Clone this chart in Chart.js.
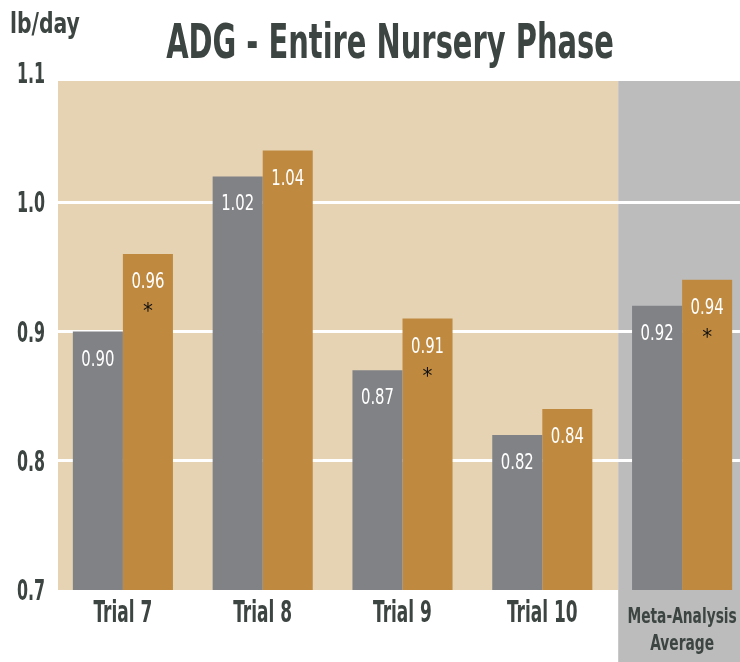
<!DOCTYPE html>
<html>
<head>
<meta charset="utf-8">
<script src="https://cdn.jsdelivr.net/npm/chart.js@4"></script>
<style>
  html, body { margin: 0; padding: 0; background: #fff; overflow: hidden; }
  #wrap { width: 752px; height: 662px; position: relative; }
</style>
</head>
<body>
<div id="wrap"><canvas id="adg"></canvas></div>
<script>
/* DATA */
const CATEGORIES = ['Trial 7', 'Trial 8', 'Trial 9', 'Trial 10', ['Meta-Analysis', 'Average']];
const CONTROL = [0.90, 1.02, 0.87, 0.82, 0.92];
const TREATED = [0.96, 1.04, 0.91, 0.84, 0.94];
const SIGNIFICANT = [true, false, true, false, true];
const Y_MIN = 0.7, Y_MAX = 1.1, Y_STEP = 0.1;
const GRID_VALUES = [0.8, 0.9, 1.0];

/* STYLE */
const FONT = "'DejaVu Sans Condensed', 'DejaVu Sans', sans-serif";
const INK = '#3c4542';
const GRAY_BAR = '#818286';
const GOLD_BAR = '#bf8a40';
const TAN = '#e5d3b4';
const PANEL = '#bcbcbc';

Chart.defaults.font.family = FONT;
Chart.defaults.color = INK;

// no narrow font installed: squeeze text horizontally instead
function squeezed(ctx, text, x, y, font, sx, align) {
  ctx.save();
  ctx.font = font;
  ctx.textAlign = align;
  ctx.textBaseline = 'alphabetic';
  ctx.translate(x, y);
  ctx.scale(sx, 1);
  ctx.fillText(text, 0, 0);
  ctx.restore();
}

/* background: tan plot + gray meta-analysis panel */
const backdrop = {
  id: 'backdrop',
  beforeDraw(chart) {
    const { ctx, chartArea: a, scales: { x } } = chart;
    const split = (x.getPixelForValue(3) + x.getPixelForValue(4)) / 2 + 6;
    const top = a.top + 8;
    ctx.save();
    ctx.fillStyle = TAN;
    ctx.fillRect(a.left + 5, top, split - a.left - 5, a.bottom - top);
    ctx.fillStyle = PANEL;
    ctx.fillRect(split, top, a.right - split, chart.height - top);
    ctx.restore();
  }
};

/* value labels, asterisks, axis labels, title */
const annotate = {
  id: 'annotate',
  afterDatasetsDraw(chart) {
    const { ctx } = chart;
    chart.data.datasets.forEach((ds, di) => {
      chart.getDatasetMeta(di).data.forEach((bar, i) => {
        ctx.fillStyle = '#ffffff';
        squeezed(ctx, ds.data[i].toFixed(2), bar.x, bar.y + 34, '22px ' + FONT, 0.75, 'center');
        if (di === 1 && SIGNIFICANT[i]) {
          ctx.fillStyle = '#111111';
          squeezed(ctx, '*', bar.x, bar.y + 64, '22px ' + FONT, 1, 'center');
        }
      });
    });
  },
  afterDraw(chart) {
    const { ctx, scales: { x, y } } = chart;
    ctx.fillStyle = INK;
    // y tick labels
    y.ticks.forEach(t => {
      squeezed(ctx, t.value.toFixed(1), 45, y.getPixelForValue(t.value) + 10, 'bold 28px ' + FONT, 0.63, 'right');
    });
    // x category labels
    chart.data.labels.forEach((lab, i) => {
      const cx = x.getPixelForValue(i);
      if (Array.isArray(lab)) {
        squeezed(ctx, lab[0], cx, 623, 'bold 21px ' + FONT, 0.73, 'center');
        squeezed(ctx, lab[1], cx, 650, 'bold 21px ' + FONT, 0.73, 'center');
      } else {
        squeezed(ctx, lab, cx, 622, 'bold 30px ' + FONT, 0.63, 'center');
      }
    });
    squeezed(ctx, 'ADG - Entire Nursery Phase', 390, 58, 'bold 48px ' + FONT, 0.67, 'center');
    squeezed(ctx, 'lb/day', 10, 33, 'bold 29px ' + FONT, 0.78, 'left');
  }
};

new Chart(document.getElementById('adg'), {
  type: 'bar',
  data: {
    labels: CATEGORIES,
    datasets: [
      { label: 'Control', data: CONTROL, backgroundColor: GRAY_BAR, borderWidth: 0 },
      { label: 'Treated', data: TREATED, backgroundColor: GOLD_BAR, borderWidth: 0 }
    ]
  },
  options: {
    responsive: true, maintainAspectRatio: false, animation: false,
    layout: { padding: { top: 73, right: 0, bottom: 0, left: 0 } },
    datasets: { bar: { categoryPercentage: 0.716, barPercentage: 1.0 } },
    plugins: { legend: { display: false }, tooltip: { enabled: false } },
    scales: {
      x: {
        grid: { display: false },
        border: { display: false },
        ticks: { display: false },
        afterFit: s => { s.height = 72; }
      },
      y: {
        min: Y_MIN, max: Y_MAX,
        border: { display: false },
        grid: {
          drawTicks: false,
          lineWidth: 3,
          color: c => GRID_VALUES.some(v => Math.abs(v - c.tick.value) < 1e-6) ? '#ffffff' : 'rgba(0,0,0,0)'
        },
        ticks: { display: false, stepSize: Y_STEP },
        afterFit: s => { s.width = 53; }
      }
    }
  },
  plugins: [backdrop, annotate]
});
</script>
</body>
</html>
